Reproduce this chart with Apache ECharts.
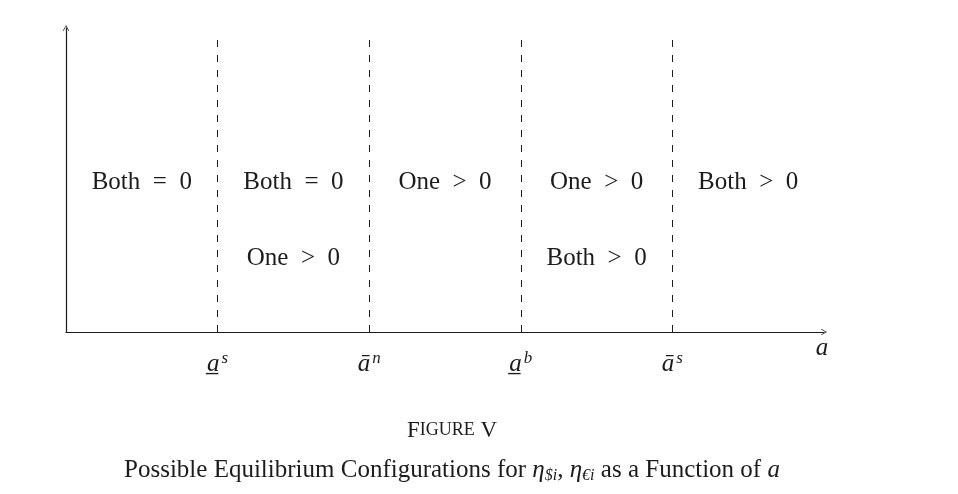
<!DOCTYPE html>
<html><head><meta charset="utf-8">
<script src="https://cdn.jsdelivr.net/npm/echarts@6/dist/echarts.min.js"></script>
<style>html,body{margin:0;padding:0;background:#fff}#c{width:958px;height:494px}</style>
</head><body><div id="c"></div>
<script>
// thresholds on the a-axis and their labels
const thresholds = [1, 2, 3, 4];
const thresholdMain = ['a\u0332', '\u0101', 'a\u0332', '\u0101'];
const thresholdSup = ['s', 'n', 'b', 's'];
// region centers and text rows
const regionX = [0.5, 1.5, 2.5, 3.5, 4.5];
const topRow = ['Both  =  0', 'Both  =  0', 'One  >  0', 'One  >  0', 'Both  >  0'];
const bottomRow = ['', 'One  >  0', '', 'Both  >  0', ''];
const rowY = [2, 1];
const dashTop = 3.92;

const FONT = 'Liberation Serif';
const INK = '#1c1c1c';

const labelData = [];
regionX.forEach((x, i) => {
  if (topRow[i]) labelData.push({ name: topRow[i], value: [x, rowY[0]] });
  if (bottomRow[i]) labelData.push({ name: bottomRow[i], value: [x, rowY[1]] });
});

const chart = echarts.init(document.getElementById('c'), null, { renderer: 'canvas' });
const arrowPath = 'path://M5,0 L10,9 L9,10 L5,2.2 L1,10 L0,9 Z';

chart.setOption({
  animation: false,
  backgroundColor: '#fff',
  title: [
    {
      text: '{b|F}{s|IGURE}{b| V}',
      left: 447, top: 414, textAlign: 'center',
      textStyle: { fontWeight: 'normal', rich: {
        b: { fontFamily: FONT, fontSize: 23, fontWeight: 'normal', color: INK },
        s: { fontFamily: FONT, fontSize: 18, fontWeight: 'normal', color: INK }
      } }
    },
    {
      text: '{n|Possible Equilibrium Configurations for }{i|\u03b7}{sub|$i}{n|, }{i|\u03b7}{sub|\u20aci}{n| as a Function of }{i|a}',
      left: 447, top: 451, textAlign: 'center',
      textStyle: { fontWeight: 'normal', rich: {
        n: { fontFamily: FONT, fontSize: 25, fontWeight: 'normal', color: INK, lineHeight: 28 },
        i: { fontFamily: FONT, fontSize: 25, fontWeight: 'normal', fontStyle: 'italic', color: INK, lineHeight: 28 },
        sub: { fontFamily: FONT, fontSize: 16, fontWeight: 'normal', fontStyle: 'italic', color: INK, verticalAlign: 'bottom', lineHeight: 20 }
      } }
    }
  ],
  grid: { left: 66, right: 134, top: 28, bottom: 162, containLabel: false },
  xAxis: {
    type: 'value', min: 0, max: 5, interval: 1,
    name: 'a', nameLocation: 'end', nameGap: -2,
    nameTextStyle: { fontFamily: FONT, fontSize: 25, fontStyle: 'italic', color: INK, align: 'center', verticalAlign: 'top', padding: [4, 0, 0, 0] },
    axisLine: { show: true, symbol: ['none', arrowPath], symbolSize: [8, 6], lineStyle: { color: INK, width: 1.2 } },
    axisTick: { show: true, inside: true, length: 5, customValues: thresholds, lineStyle: { color: INK, width: 1 } },
    axisLabel: {
      show: true, customValues: thresholds, margin: 18,
      formatter: v => {
        const i = thresholds.indexOf(v);
        return i < 0 ? '' : '{a|' + thresholdMain[i] + '}{s|' + thresholdSup[i] + '}';
      },
      rich: {
        a: { fontFamily: FONT, fontSize: 25, fontStyle: 'italic', color: INK, lineHeight: 28 },
        s: { fontFamily: FONT, fontSize: 17, fontStyle: 'italic', color: INK, verticalAlign: 'top', lineHeight: 14, padding: [0, 0, 0, 2] }
      }
    },
    splitLine: { show: false }
  },
  yAxis: {
    type: 'value', min: 0, max: 4, interval: 1,
    axisLine: { show: true, symbol: ['none', arrowPath], symbolSize: [8, 6], lineStyle: { color: INK, width: 1.2 } },
    axisTick: { show: false }, axisLabel: { show: false }, splitLine: { show: false }
  },
  series: [
    {
      type: 'line', data: [], silent: true,
      markLine: {
        silent: true, symbol: ['none', 'none'], label: { show: false },
        lineStyle: { color: INK, type: [7, 8], width: 1 },
        data: thresholds.map(t => [{ coord: [t, 0] }, { coord: [t, dashTop] }])
      }
    },
    {
      type: 'scatter', symbolSize: 0, silent: true,
      itemStyle: { opacity: 1 },
      data: labelData,
      label: { show: true, position: 'inside', offset: [0, 2], formatter: p => p.name, fontFamily: FONT, fontSize: 25, color: INK, opacity: 1, textBorderWidth: 0 }
    }
  ]
});
</script></body></html>
